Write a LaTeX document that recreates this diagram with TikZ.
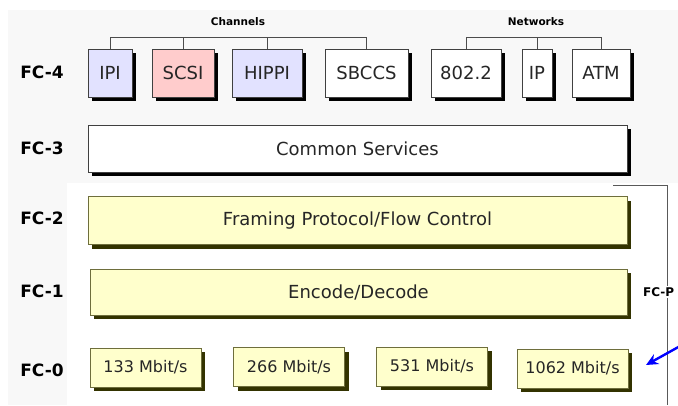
\documentclass[tikz,border=0pt]{standalone}
\usepackage{fontspec}
\setmainfont{DejaVu Sans}
\usetikzlibrary{shadows, positioning, arrows.meta}
\definecolor{lav}{RGB}{226,226,255}
\definecolor{pnk}{RGB}{255,204,204}
\definecolor{pale}{RGB}{255,255,204}
\definecolor{shadeol}{RGB}{51,51,0}
\definecolor{yelline}{RGB}{110,110,60}
\definecolor{backg}{RGB}{248,248,248}
\tikzstyle{shad}=[drop shadow={shadow xshift=4pt,shadow yshift=-4pt,fill=black,opacity=1}]
\tikzstyle{shadY}=[drop shadow={shadow xshift=4pt,shadow yshift=-4pt,fill=shadeol,opacity=1}]
\tikzstyle{proto}=[draw=black!75,line width=0.8pt,fill=white,inner sep=0pt,minimum height=48pt,text=black!85,font=\fontsize{18}{20}\selectfont,shad]
\tikzstyle{layer}=[proto,minimum width=539pt,minimum height=47pt]
\tikzstyle{yel}=[proto,fill=pale,draw=yelline,drop shadow={shadow xshift=4pt,shadow yshift=-4pt,fill=shadeol,opacity=1}]
\tikzstyle{rate}=[draw=yelline,fill=pale,line width=0.8pt,inner sep=0pt,minimum width=111pt,minimum height=39pt,text=black!85,font=\fontsize{16}{18}\selectfont,shadY]
\tikzstyle{fclab}=[font=\fontsize{17}{19}\selectfont\bfseries]
\tikzstyle{grp}=[font=\fontsize{10.5}{12}\selectfont\bfseries]
\tikzstyle{bus}=[draw=black!70,line width=0.8pt]
\begin{document}
\begin{tikzpicture}[x=1pt,y=-1pt]
\useasboundingbox (0,0) rectangle (678,405);
\clip (0,0) rectangle (678,405);
% background
\fill[backg] (8,10) rectangle (678,405);
\fill[white] (67,183) rectangle (678,405);
% layer names
\foreach \n/\y in {4/72,3/148,2/218,1/291,0/370}
  \node[fclab] (fc\n) at (42,\y) {FC-\n};
% FC-4 upper level protocols
\node[proto,fill=lav,minimum width=44pt] (ipi) at (110,73) {IPI};
\node[proto,fill=pnk,minimum width=62pt] (scsi) at (183,73) {SCSI};
\node[proto,fill=lav,minimum width=70pt] (hippi) at (267,73) {HIPPI};
\node[proto,minimum width=83pt] (sbccs) at (366.5,73) {SBCCS};
\node[proto,minimum width=70pt] (ieee) at (466,73) {802.2};
\node[proto,minimum width=30pt] (ip) at (537,73) {IP};
\node[proto,minimum width=58pt] (atm) at (601,73) {ATM};
\node[grp] (chan) at (238,22) {Channels};
\node[grp] (netw) at (536,22) {Networks};
\draw[bus] (ipi.north) -- ++(0,-11) -| (sbccs.north);
\draw[bus] (scsi.north) -- ++(0,-11);
\draw[bus] (hippi.north) -- ++(0,-11);
\draw[bus] (ieee.north) -- ++(0,-11) -| (atm.north);
\draw[bus] (ip.north) -- ++(0,-11);
% FC-3 .. FC-1
\node[layer] (common) at (357.5,148.5) {Common Services};
\node[layer,yel] (framing) at (357.5,220.5) {Framing Protocol/Flow Control};
\node[layer,yel,minimum width=537pt,minimum height=46pt] (encode) at (358.5,292) {Encode/Decode};
% FC-0
\foreach \r/\x/\y in {133/145.5/367.5,266/289/367,531/432/366.5,1062/572.5/368.5}
  \node[rate] (r\r) at (\x,\y) {\r\ Mbit/s};
% FC-PH bracket
\coordinate (brk) at (613,185);
\coordinate (brkend) at (667,405);
\draw[black!65,line width=0.8pt] (brk) -| (brkend);
\node[grp,font=\fontsize{12}{14}\selectfont\bfseries,fill=white,anchor=west,inner sep=1pt] (fcph) at (642,292) {FC-P};
% pointer
\coordinate (afrom) at (700,335);
\coordinate (atip) at (646,365);
\draw[blue,line width=2.4pt,-{Stealth[length=12pt,width=11pt]}] (afrom) -- (atip);
\end{tikzpicture}
\end{document}
